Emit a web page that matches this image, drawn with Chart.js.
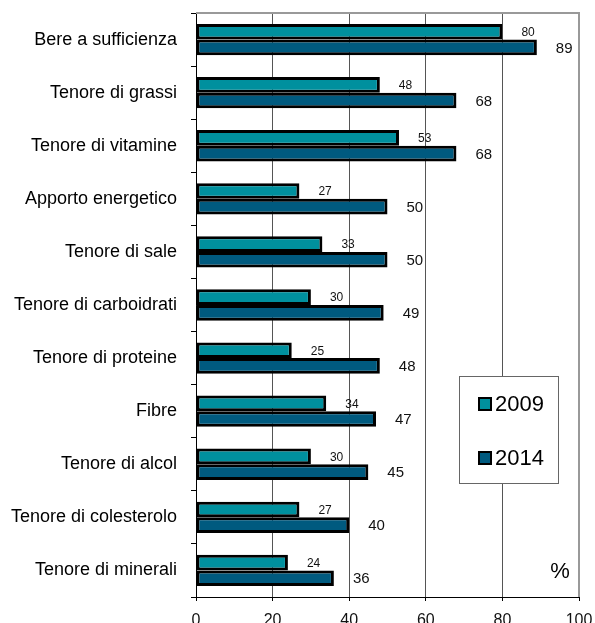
<!DOCTYPE html>
<html>
<head>
<meta charset="utf-8">
<script src="https://cdn.jsdelivr.net/npm/chart.js@4"></script>
<style>
html,body{margin:0;padding:0;background:#fff;}
#wrap{position:relative;width:595px;height:623px;}
</style>
</head>
<body>
<div id="wrap"><canvas id="c" width="595" height="623"></canvas></div>
<script>
const categories = ["Bere a sufficienza","Tenore di grassi","Tenore di vitamine","Apporto energetico","Tenore di sale","Tenore di carboidrati","Tenore di proteine","Fibre","Tenore di alcol","Tenore di colesterolo","Tenore di minerali"];
const values2009 = [80,48,53,27,33,30,25,34,30,27,24];
const values2014 = [89,68,68,50,50,49,48,47,45,40,36];
const seriesNames = ["2009","2014"];
const xTicks = [0,20,40,60,80,100];

const FONT = "'Liberation Sans', Arial, sans-serif";

const framePlugin = {
  id: 'frame',
  beforeDatasetsDraw(chart) {
    const {ctx, chartArea: a} = chart;
    ctx.save();
    ctx.strokeStyle = '#999';
    ctx.lineWidth = 2;
    ctx.beginPath();
    ctx.moveTo(a.left, a.top);
    ctx.lineTo(a.right, a.top);
    ctx.lineTo(a.right, a.bottom);
    ctx.stroke();
    ctx.restore();
  },
  afterDraw(chart) {
    const {ctx} = chart;
    ctx.save();
    const sizes = [12, 15];
    chart.data.datasets.forEach((ds, di) => {
      const meta = chart.getDatasetMeta(di);
      meta.data.forEach((el, i) => {
        ctx.font = sizes[di] + 'px ' + FONT;
        ctx.fillStyle = '#111';
        ctx.textAlign = 'left';
        ctx.textBaseline = 'middle';
        ctx.fillText(String(ds.data[i]), el.x + 19, el.y + 1);
      });
    });
    const lx = 459, ly = 376, lw = 99, lh = 107;
    ctx.fillStyle = '#fff';
    ctx.fillRect(lx, ly, lw, lh);
    ctx.strokeStyle = '#666';
    ctx.lineWidth = 1;
    ctx.strokeRect(lx + 0.5, ly + 0.5, lw, lh);
    const rows = [404, 458];
    chart.data.datasets.forEach((ds, di) => {
      const y = rows[di];
      ctx.fillStyle = ds.backgroundColor;
      ctx.fillRect(479, y - 6, 12, 12);
      ctx.strokeStyle = '#000';
      ctx.lineWidth = 2;
      ctx.strokeRect(479, y - 6, 12, 12);
      ctx.fillStyle = '#000';
      ctx.font = '22px ' + FONT;
      ctx.textAlign = 'left';
      ctx.textBaseline = 'middle';
      ctx.fillText(ds.label, 495, y + 1);
    });
    ctx.font = '22px ' + FONT;
    ctx.textAlign = 'center';
    ctx.textBaseline = 'middle';
    ctx.fillStyle = '#000';
    ctx.fillText('%', 560, 572);
    ctx.restore();
  }
};

new Chart(document.getElementById('c'), {
  type: 'bar',
  data: {
    labels: categories,
    datasets: [
      {label: seriesNames[0], data: values2009, backgroundColor: '#00909E', borderColor: '#000', borderWidth: 3, borderSkipped: false, categoryPercentage: 0.59, barPercentage: 1.0},
      {label: seriesNames[1], data: values2014, backgroundColor: '#005A7F', borderColor: '#000', borderWidth: 3, borderSkipped: false, categoryPercentage: 0.59, barPercentage: 1.0}
    ]
  },
  options: {
    indexAxis: 'y',
    responsive: false,
    animation: false,
    devicePixelRatio: 1,
    layout: {padding: {top: 13, right: 16, bottom: 0, left: 0}},
    plugins: {legend: {display: false}, tooltip: {enabled: false}},
    scales: {
      x: {
        min: 0, max: 100,
        afterBuildTicks(scale) { scale.ticks = xTicks.map(v => ({value: v})); },
        afterFit(scale) { scale.height = 26; scale.paddingLeft = 0; scale.paddingRight = 0; },
        grid: {color: '#555', lineWidth: 1, tickLength: 4, tickColor: '#000'},
        border: {color: '#000', width: 1},
        ticks: {font: {family: FONT, size: 16}, color: '#111', padding: 10, maxRotation: 0}
      },
      y: {
        afterFit(scale) { scale.width = 196; scale.paddingTop = 0; scale.paddingBottom = 0; },
        grid: {offset: true, drawOnChartArea: false, tickLength: 5, tickColor: '#000'},
        border: {color: '#000', width: 1},
        ticks: {font: {family: FONT, size: 18}, color: '#000', padding: 14}
      }
    }
  },
  plugins: [framePlugin]
});
</script>
</body>
</html>
